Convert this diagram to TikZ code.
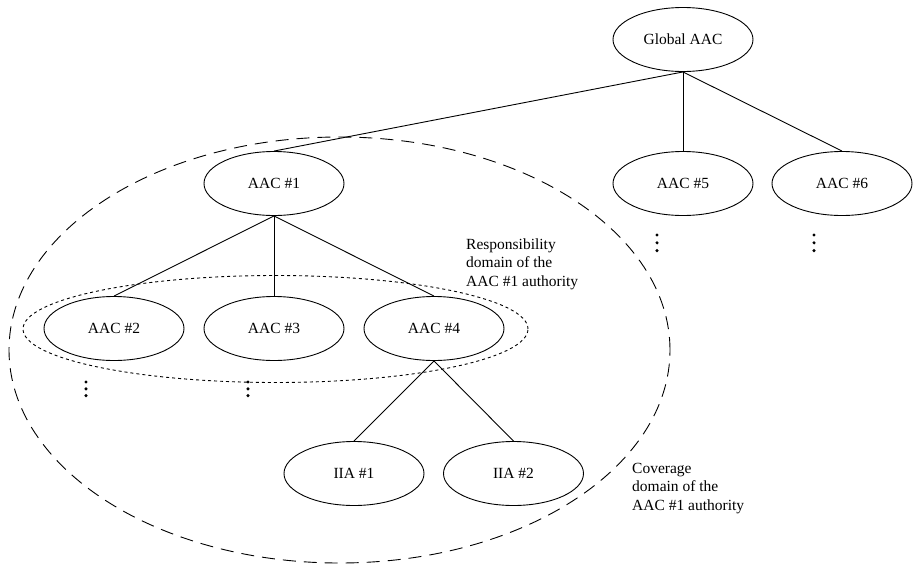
\documentclass[tikz,border=0pt]{standalone}
\usepackage{fontspec}
\setmainfont{Liberation Serif}
\usetikzlibrary{shapes.geometric}

\tikzset{
  unit/.style={draw, ellipse, line width=0.9pt, minimum width=140pt, minimum height=64pt,
               inner sep=0pt, font=\fontsize{15.5}{18.5}\selectfont},
  link/.style={line width=0.9pt},
  coverage/.style={line width=0.9pt, dash pattern=on 13pt off 8pt},
  responsibility/.style={line width=0.9pt, dash pattern=on 3pt off 3pt},
  note/.style={anchor=north west, align=left, inner sep=0pt,
               font=\fontsize{15.5}{18.5}\selectfont},
  vdot/.style={fill=black}
}

\begin{document}
\begin{tikzpicture}[x=1pt, y=-1pt]
  \useasboundingbox (0,0) rectangle (914,568);

  % hierarchy of authorities
  \node[unit] (global) at (683,39.5) {Global AAC};
  \node[unit] (aac1) at (274,183.5) {AAC \#1};
  \node[unit] (aac5) at (683,183.5) {AAC \#5};
  \node[unit] (aac6) at (842,183.5) {AAC \#6};
  \node[unit] (aac2) at (114,328.5) {AAC \#2};
  \node[unit] (aac3) at (274,328.5) {AAC \#3};
  \node[unit] (aac4) at (434,328.5) {AAC \#4};
  \node[unit] (iia1) at (354,473.5) {IIA \#1};
  \node[unit] (iia2) at (513.5,473.5) {IIA \#2};

  \draw[link] (global.south) -- (aac1.north);
  \draw[link] (global.south) -- (aac5.north);
  \draw[link] (global.south) -- (aac6.north);
  \draw[link] (aac1.south) -- (aac2.north);
  \draw[link] (aac1.south) -- (aac3.north);
  \draw[link] (aac1.south) -- (aac4.north);
  \draw[link] (aac4.south) -- (iia1.north);
  \draw[link] (aac4.south) -- (iia2.north);

  % domains
  \draw[coverage] (339.5,350) ellipse [x radius=330.5pt, y radius=213pt];
  \draw[responsibility] (275.5,329) ellipse [x radius=252.5pt, y radius=53.5pt];

  % continuation marks
  \foreach \px/\py/\d in {86/382/6.8, 248/382/6.8, 657/235/7.8, 814/235/7.8} {
    \fill[vdot] (\px,\py) circle [radius=1.7pt];
    \fill[vdot] (\px,\py+\d) circle [radius=1.7pt];
    \fill[vdot] (\px,\py+2*\d) circle [radius=1.7pt];
  }

  % captions
  \node[note] (resp) at (466,238.5) {Responsibility\\domain of the\\AAC \#1 authority};
  \node[note] (cov) at (632,463) {Coverage\\domain of the\\AAC \#1 authority};
\end{tikzpicture}
\end{document}
